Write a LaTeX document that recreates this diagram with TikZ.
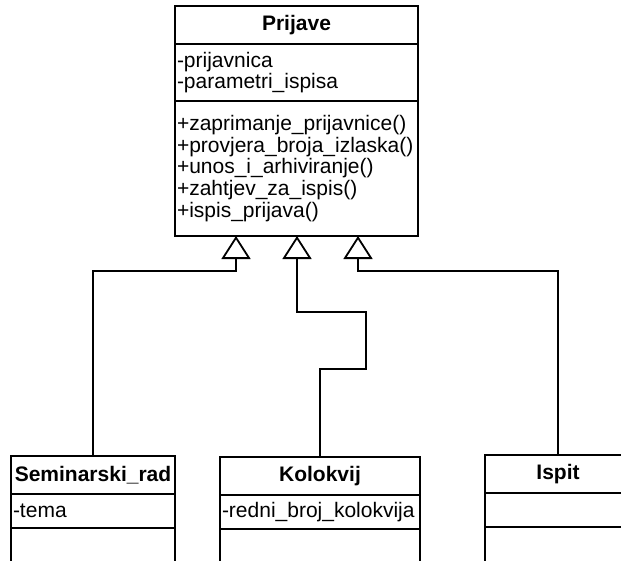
\documentclass[tikz,border=0pt]{standalone}
\usepackage{fontspec}
\setmainfont{Liberation Sans}
\usetikzlibrary{positioning,arrows.meta}

\begin{document}
\begin{tikzpicture}[x=1pt,y=-1pt]

		% Define styles
		\tikzstyle{classhead} = [
		rectangle, minimum height=38pt, inner sep=2pt, outer sep=0pt,
		text centered, draw=black, line width=1.8pt,
		font=\fontsize{21}{21.7}\selectfont\bfseries]
		\tikzstyle{classpart} = [
		rectangle, inner sep=2pt, outer sep=0pt, draw=black, line width=1.8pt,
		align=left, font=\fontsize{21}{21.7}\selectfont]
		\tikzstyle{inherit} = [line width=1.1pt,
		-{Triangle[open, length=23pt, width=29pt, line width=1.8pt]}]

		\clip (0,0) rectangle (621,560);

		% Nodes
		\node (prijave) [classhead, minimum width=243pt, anchor=north] at (296.5,6) {Prijave};
		\node (prijaveattr) [classpart, below=0pt of prijave, minimum height=57pt, text width=239pt] {
			-prijavnica \\
			-parametri\_ispisa
		};
		\node (prijaveops) [classpart, below=0pt of prijaveattr, minimum height=135pt, text width=239pt] {
			+zaprimanje\_prijavnice() \\
			+provjera\_broja\_izlaska() \\
			+unos\_i\_arhiviranje() \\
			+zahtjev\_za\_ispis() \\
			+ispis\_prijava()
		};

		\node (seminar) [classhead, minimum width=164pt, anchor=north] at (93,456) {Seminarski\_rad};
		\node (seminarattr) [classpart, below=0pt of seminar, minimum height=34pt, text width=160pt] {-tema};
		\node (seminarops) [classpart, below=0pt of seminarattr, minimum height=40pt, minimum width=164pt] {};

		\node (kolokvij) [classhead, minimum width=200pt, anchor=north] at (320,457) {Kolokvij};
		\node (kolokvijattr) [classpart, below=0pt of kolokvij, minimum height=34pt, text width=196pt] {-redni\_broj\_kolokvija};
		\node (kolokvijops) [classpart, below=0pt of kolokvijattr, minimum height=40pt, minimum width=200pt] {};

		\node (ispit) [classhead, minimum width=146pt, anchor=north] at (558,455) {Ispit};
		\node (ispitattr) [classpart, below=0pt of ispit, minimum height=34pt, minimum width=146pt] {};
		\node (ispitops) [classpart, below=0pt of ispitattr, minimum height=40pt, minimum width=146pt] {};

		% Bends
		\coordinate (sbend) at (236,271);
		\coordinate (kbend1) at (366,369);
		\coordinate (kbend2) at (297,312);
		\coordinate (ibend) at (358,271);

		% Arrows
		\draw [inherit] (seminar.north) |- (sbend) -- (sbend |- prijaveops.south);
		\draw [inherit] (kolokvij.north) |- (kbend1) |- (kbend2) -- (kbend2 |- prijaveops.south);
		\draw [inherit] (ispit.north) |- (ibend) -- (ibend |- prijaveops.south);
	\end{tikzpicture}
\end{document}
